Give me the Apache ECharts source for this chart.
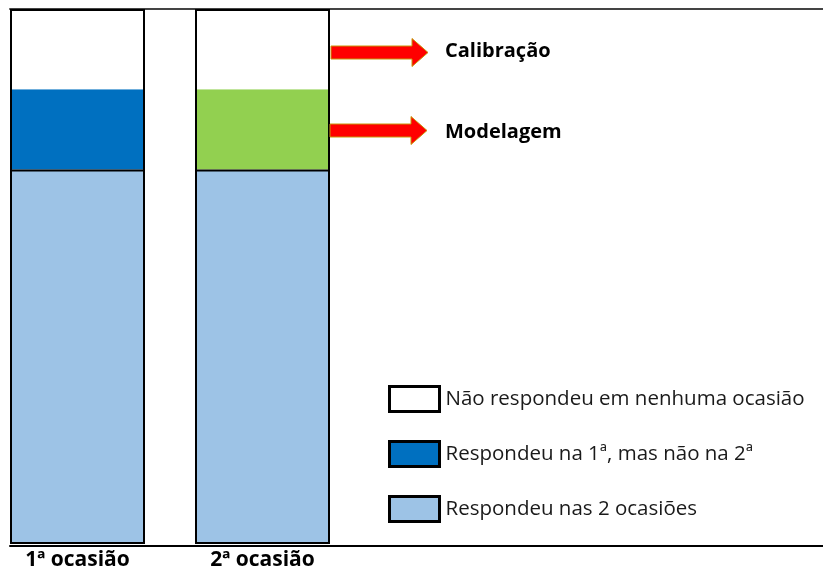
<!DOCTYPE html>
<html>
<head>
<meta charset="utf-8">
<script src="https://cdn.jsdelivr.net/npm/echarts@6/dist/echarts.min.js"></script>
<style>html,body{margin:0;padding:0;background:#fff;}#c{width:823px;height:571px;}</style>
</head>
<body>
<div id="c"></div>
<script>
const categories = ['1ª ocasião', '2ª ocasião'];
const bothOccasions = [70, 70];      // Respondeu nas 2 ocasiões
const onlyOne = [15, 15];            // Respondeu na 1ª, mas não na 2ª (2ª: modelagem)
const noResponse = [15, 15];         // Não respondeu em nenhuma ocasião
const seriesNames = ['Não respondeu em nenhuma ocasião', 'Respondeu na 1ª, mas não na 2ª', 'Respondeu nas 2 ocasiões'];
const arrowLabels = ['Calibração', 'Modelagem'];

const totals = categories.map((_, i) => bothOccasions[i] + onlyOne[i] + noResponse[i]);
const FONT = '"Open Sans", "Noto Sans", sans-serif';

const chart = echarts.init(document.getElementById('c'), null, {renderer: 'canvas'});

function arrow(x0, yc, x1) {
  const shaftH = 6.5, headH = 14, headL = 16;
  return {
    type: 'polygon',
    shape: {points: [[x0, yc - shaftH], [x1 - headL, yc - shaftH], [x1 - headL, yc - headH], [x1, yc], [x1 - headL, yc + headH], [x1 - headL, yc + shaftH], [x0, yc + shaftH]]},
    style: {fill: '#FF0000', stroke: '#C8960A', lineWidth: 1},
    z: 10
  };
}

chart.setOption({
  animation: false,
  backgroundColor: '#fff',
  grid: [
    {left: 77.5, top: 9, bottom: 25, width: 185},
    {left: 10, top: 9, bottom: 25, right: 0}
  ],
  xAxis: [
    {type: 'category', gridIndex: 0, data: categories, boundaryGap: false,
     axisLine: {show: false}, axisTick: {show: false},
     axisLabel: {fontFamily: FONT, fontWeight: 'bold', fontSize: 21, color: '#000', margin: 6}},
    {type: 'value', gridIndex: 1, min: 0, max: 1, position: 'bottom',
     axisLine: {show: true, onZero: false, lineStyle: {color: '#000', width: 2}},
     axisTick: {show: false}, axisLabel: {show: false}, splitLine: {show: false}},
    {type: 'value', gridIndex: 1, min: 0, max: 1, position: 'top',
     axisLine: {show: true, onZero: false, lineStyle: {color: '#444', width: 2}},
     axisTick: {show: false}, axisLabel: {show: false}, splitLine: {show: false}}
  ],
  yAxis: [
    {type: 'value', gridIndex: 0, min: 0, max: 100, show: false},
    {type: 'value', gridIndex: 1, min: 0, max: 1, show: false}
  ],
  legend: {
    data: seriesNames,
    orient: 'vertical', left: 383, top: 380,
    icon: 'rect', itemWidth: 50, itemHeight: 25, itemGap: 27,
    itemStyle: {borderColor: '#000', borderWidth: 3},
    textStyle: {fontFamily: FONT, fontSize: 20.5, color: '#1a1a1a', padding: [0, 0, 0, 1]},
    selectedMode: false
  },
  series: [
    {name: seriesNames[2], type: 'bar', stack: 'a', barWidth: 135, data: bothOccasions,
     itemStyle: {color: '#9DC3E6', borderColor: '#000', borderWidth: 2}, z: 2},
    {name: seriesNames[1], type: 'bar', stack: 'a', barWidth: 135,
     data: [onlyOne[0], {value: onlyOne[1], itemStyle: {color: '#92D050'}}],
     itemStyle: {color: '#0070C0'}, z: 1},
    {name: seriesNames[0], type: 'bar', stack: 'a', barWidth: 135, data: noResponse,
     itemStyle: {color: '#FFFFFF'}, z: 1},
    {name: 'frame', type: 'bar', barWidth: 135, barGap: '-100%', data: totals, silent: true,
     itemStyle: {color: 'rgba(0,0,0,0)', borderColor: '#000', borderWidth: 2}, z: 3}
  ],
  graphic: [
    arrow(331, 52.5, 428),
    arrow(330, 130.5, 427),
    {type: 'text', x: 445, y: 51, style: {text: arrowLabels[0], font: 'bold 20px ' + FONT, fill: '#000', verticalAlign: 'middle'}},
    {type: 'text', x: 445, y: 132, style: {text: arrowLabels[1], font: 'bold 20px ' + FONT, fill: '#000', verticalAlign: 'middle'}}
  ]
});
</script>
</body>
</html>
